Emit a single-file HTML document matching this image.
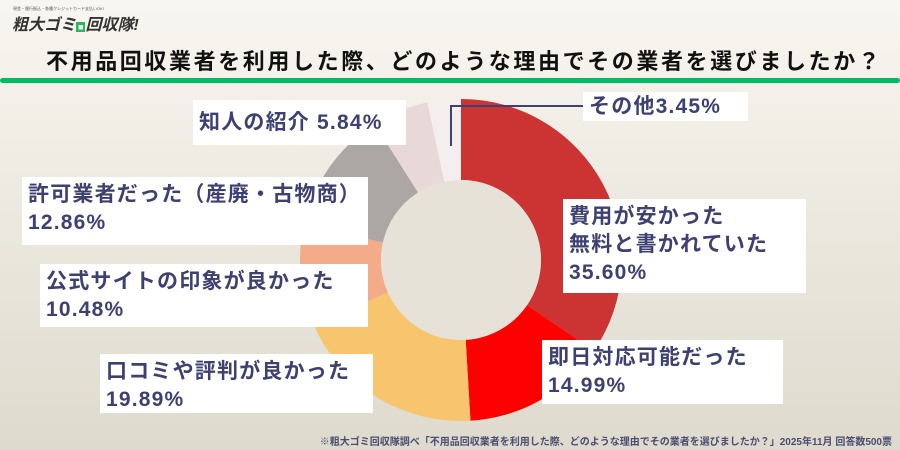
<!DOCTYPE html><html><head><meta charset="utf-8"><style>
body{margin:0;width:900px;height:450px;overflow:hidden;position:relative;background:linear-gradient(#f8f6f0,#dedacd);font-family:"Liberation Sans","Noto Sans CJK JP",sans-serif}
.b{position:absolute;background:#fff;color:#3d4070;font-weight:bold;font-size:21px;letter-spacing:1.2px;line-height:28px;padding:4px 6px;box-sizing:border-box;white-space:nowrap}
</style></head><body>
<div style="position:absolute;left:13px;top:6px;font-size:4px;color:#555">現金・銀行振込・各種クレジットカード支払いOK!</div>
<div style="position:absolute;left:12px;top:11px;font-size:16px;font-weight:bold;font-style:italic;color:#333">粗大ゴミ<span style="background:#2b5;color:#fff;font-size:9px;padding:0 2px">■</span>回収隊!</div>
<div style="position:absolute;left:46px;top:44px;font-size:22px;font-weight:bold;color:#111;letter-spacing:2.6px">不用品回収業者を利用した際、どのような理由でその業者を選びましたか？</div>
<div style="position:absolute;left:0;top:78px;width:900px;height:5px;background:#0b6;border-radius:3px"></div>
<svg width="900" height="450" style="position:absolute;left:0;top:0" id="s"></svg>
<div class="b" style="left:583px;top:92px;width:165px;height:29px;line-height:21px">その他3.45%</div>
<div class="b" style="left:193px;top:100px;width:213px;height:45px;line-height:37px">知人の紹介 5.84%</div>
<div class="b" style="left:22px;top:177px;width:346px;height:68px">許可業者だった（産廃・古物商）<br>12.86%</div>
<div class="b" style="left:40px;top:264px;width:328px;height:63px">公式サイトの印象が良かった<br>10.48%</div>
<div class="b" style="left:100px;top:354px;width:273px;height:59px">口コミや評判が良かった<br>19.89%</div>
<div class="b" style="left:563px;top:199px;width:243px;height:94px">費用が安かった<br>無料と書かれていた<br>35.60%</div>
<div class="b" style="left:542px;top:340px;width:241px;height:64px">即日対応可能だった<br>14.99%</div>
<div style="position:absolute;right:8px;top:433px;font-size:10px;font-weight:bold;color:#4a4d70">※粗大ゴミ回収隊調べ「不用品回収業者を利用した際、どのような理由でその業者を選びましたか？」2025年11月 回答数500票</div>
<script>
var d=[[35.60,"#cc3333"],[14.99,"#ff0000"],[19.89,"#f6c56e"],[10.48,"#f4ab88"],[12.86,"#aca6a5"],[5.84,"#e8d8d8"],[3.45,"#f4eeee"]];
var tot=0;d.forEach(function(s){tot+=s[0];});
var cx=461,cy=260,R=161,r=80,a=0,h="";
function p(ang,rad){return [cx+rad*Math.sin(ang),cy-rad*Math.cos(ang)];}
d.forEach(function(s){var b=a+s[0]/tot*2*Math.PI;var l=(b-a)>Math.PI?1:0;var p1=p(a,R),p2=p(b,R),p3=p(b,r),p4=p(a,r);
h+='<path fill="'+s[1]+'" d="M'+p1+'A'+R+','+R+' 0 '+l+' 1 '+p2+'L'+p3+'A'+r+','+r+' 0 '+l+' 0 '+p4+'Z"/>';a=b;});
h+='<circle cx="'+cx+'" cy="'+cy+'" r="'+r+'" fill="#e6e2d8"/>';
h+='<polyline points="451,146 451,106 583,106" fill="none" stroke="#3d4070" stroke-width="2"/>';
document.getElementById("s").innerHTML=h;
</script>
</body></html>
